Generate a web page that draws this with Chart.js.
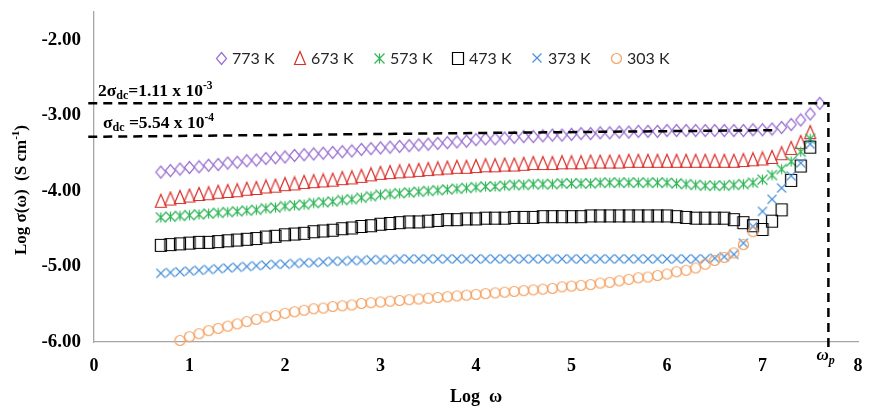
<!DOCTYPE html>
<html>
<head>
<meta charset="utf-8">
<script src="https://cdn.jsdelivr.net/npm/chart.js@4.4.1/dist/chart.umd.min.js"></script>
<style>
  html, body { margin: 0; padding: 0; background: #fff; }
  #wrap { width: 869px; height: 409px; }
</style>
</head>
<body>
<div id="wrap"><canvas id="chart" width="869" height="409"></canvas></div>
<script>
// log(omega) sampling, shared by every series
const logW = [
  0.7, 0.8, 0.9, 1.0, 1.1, 1.2, 1.3, 1.4, 1.5, 1.6,
  1.7, 1.8, 1.9, 2.0, 2.1, 2.2, 2.3, 2.4, 2.5, 2.6,
  2.7, 2.8, 2.9, 3.0, 3.1, 3.2, 3.3, 3.4, 3.5, 3.6,
  3.7, 3.8, 3.9, 4.0, 4.1, 4.2, 4.3, 4.4, 4.5, 4.6,
  4.7, 4.8, 4.9, 5.0, 5.1, 5.2, 5.3, 5.4, 5.5, 5.6,
  5.7, 5.8, 5.9, 6.0, 6.1, 6.2, 6.3, 6.4, 6.5, 6.6,
  6.7, 6.8, 6.9, 7.0, 7.1, 7.2, 7.3, 7.4, 7.5, 7.6
];

const s773 = [
  -3.75, -3.73, -3.71, -3.69, -3.68, -3.66, -3.65, -3.63, -3.62, -3.60,
  -3.59, -3.57, -3.56, -3.55, -3.53, -3.52, -3.51, -3.50, -3.49, -3.48,
  -3.47, -3.45, -3.44, -3.43, -3.42, -3.41, -3.40, -3.39, -3.38, -3.37,
  -3.36, -3.35, -3.34, -3.32, -3.31, -3.31, -3.30, -3.29, -3.28, -3.28,
  -3.27, -3.26, -3.26, -3.25, -3.24, -3.24, -3.23, -3.23, -3.22, -3.22,
  -3.21, -3.21, -3.21, -3.20, -3.20, -3.20, -3.20, -3.20, -3.20, -3.20,
  -3.20, -3.20, -3.19, -3.19, -3.18, -3.16, -3.12, -3.06, -2.98, -2.84
];
const s673 = [
  -4.13, -4.10, -4.08, -4.06, -4.04, -4.03, -4.01, -4.00, -3.99, -3.97,
  -3.96, -3.94, -3.93, -3.91, -3.90, -3.88, -3.87, -3.86, -3.85, -3.83,
  -3.82, -3.80, -3.78, -3.76, -3.75, -3.74, -3.73, -3.72, -3.71, -3.70,
  -3.69, -3.68, -3.68, -3.67, -3.66, -3.66, -3.65, -3.65, -3.64, -3.63,
  -3.63, -3.63, -3.62, -3.62, -3.62, -3.61, -3.61, -3.61, -3.61, -3.60,
  -3.60, -3.60, -3.60, -3.60, -3.60, -3.60, -3.60, -3.60, -3.60, -3.60,
  -3.60, -3.59, -3.58, -3.57, -3.55, -3.50, -3.43, -3.35, -3.22, null
];
const s573 = [
  -4.35, -4.34, -4.33, -4.32, -4.31, -4.30, -4.29, -4.28, -4.27, -4.26,
  -4.25, -4.23, -4.22, -4.20, -4.19, -4.18, -4.16, -4.15, -4.14, -4.12,
  -4.11, -4.09, -4.07, -4.05, -4.04, -4.03, -4.02, -4.01, -4.00, -3.99,
  -3.98, -3.97, -3.96, -3.95, -3.94, -3.94, -3.93, -3.92, -3.92, -3.91,
  -3.91, -3.91, -3.90, -3.90, -3.90, -3.90, -3.89, -3.89, -3.89, -3.89,
  -3.89, -3.89, -3.89, -3.89, -3.90, -3.91, -3.92, -3.93, -3.93, -3.93,
  -3.92, -3.91, -3.89, -3.85, -3.79, -3.71, -3.61, -3.48, -3.31, null
];
const s473 = [
  -4.72, -4.71, -4.70, -4.69, -4.68, -4.68, -4.67, -4.66, -4.65, -4.64,
  -4.63, -4.61, -4.60, -4.58, -4.57, -4.56, -4.54, -4.53, -4.52, -4.50,
  -4.49, -4.47, -4.46, -4.44, -4.43, -4.42, -4.41, -4.41, -4.40, -4.39,
  -4.38, -4.38, -4.37, -4.37, -4.36, -4.36, -4.36, -4.35, -4.35, -4.35,
  -4.34, -4.34, -4.34, -4.34, -4.34, -4.33, -4.33, -4.33, -4.33, -4.33,
  -4.33, -4.33, -4.33, -4.33, -4.34, -4.35, -4.36, -4.36, -4.36, -4.36,
  -4.38, -4.42, -4.46, -4.51, -4.40, -4.25, -3.86, -3.67, -3.42, null
];
const s373 = [
  -5.09, -5.08, -5.07, -5.06, -5.05, -5.04, -5.03, -5.02, -5.01, -5.00,
  -4.99, -4.98, -4.97, -4.97, -4.96, -4.95, -4.95, -4.94, -4.93, -4.93,
  -4.92, -4.92, -4.91, -4.91, -4.91, -4.90, -4.90, -4.90, -4.90, -4.90,
  -4.90, -4.90, -4.90, -4.90, -4.90, -4.90, -4.90, -4.90, -4.90, -4.90,
  -4.90, -4.90, -4.90, -4.90, -4.90, -4.90, -4.90, -4.90, -4.90, -4.90,
  -4.90, -4.90, -4.90, -4.90, -4.90, -4.90, -4.90, -4.90, -4.89, -4.87,
  -4.84, -4.69, -4.47, -4.27, -4.11, -3.96, -3.80, -3.63, -3.38, null
];
const s303 = [
  null, null, -5.98, -5.93, -5.89, -5.85, -5.82, -5.79, -5.76, -5.73,
  -5.70, -5.67, -5.65, -5.62, -5.60, -5.58, -5.56, -5.55, -5.53, -5.52,
  -5.51, -5.49, -5.48, -5.47, -5.46, -5.45, -5.44, -5.43, -5.42, -5.41,
  -5.40, -5.39, -5.38, -5.37, -5.36, -5.35, -5.34, -5.33, -5.32, -5.31,
  -5.30, -5.29, -5.27, -5.26, -5.25, -5.24, -5.22, -5.21, -5.19, -5.17,
  -5.15, -5.14, -5.12, -5.10, -5.07, -5.05, -5.02, -4.97, -4.92, -4.88,
  -4.82, -4.71, -4.54, null, null, null, null, null, null, null
];

const seriesLabels = ['773 K', '673 K', '573 K', '473 K', '373 K', '303 K'];
const xTicks = [0, 1, 2, 3, 4, 5, 6, 7, 8];
const yTicks = [-6, -5, -4, -3, -2];

// dashed guide lines (2 sigma_dc level + omega_p drop, and sigma_dc level)
const twoDcX = [-0.06, 7.69, 7.69];
const twoDcY = [-2.837, -2.837, -6.07];
const dcX = [-0.06, 7.15];
const dcY = [-3.283, -3.194];

const serif = '"Liberation Serif", "Times New Roman", serif';

function marker(kind, color, w, h) {
  const c = document.createElement('canvas');
  c.width = w + 3;
  c.height = h + 3;
  const g = c.getContext('2d');
  const cx = c.width / 2, cy = c.height / 2, rx = w / 2, ry = h / 2;
  g.strokeStyle = color;
  g.lineWidth = 1.2;
  g.beginPath();
  if (kind === 'diamond') {
    g.moveTo(cx, cy - ry); g.lineTo(cx + rx, cy); g.lineTo(cx, cy + ry); g.lineTo(cx - rx, cy); g.closePath();
  } else if (kind === 'triangle') {
    g.moveTo(cx, cy - ry); g.lineTo(cx + rx, cy + ry); g.lineTo(cx - rx, cy + ry); g.closePath();
  } else if (kind === 'star') {
    g.moveTo(cx - rx, cy - ry); g.lineTo(cx + rx, cy + ry);
    g.moveTo(cx + rx, cy - ry); g.lineTo(cx - rx, cy + ry);
    g.moveTo(cx, cy - ry); g.lineTo(cx, cy + ry);
  } else if (kind === 'square') {
    g.rect(cx - rx, cy - ry, w, h);
  } else if (kind === 'cross') {
    g.moveTo(cx - rx, cy - ry); g.lineTo(cx + rx, cy + ry);
    g.moveTo(cx + rx, cy - ry); g.lineTo(cx - rx, cy + ry);
  } else {
    g.arc(cx, cy, rx, 0, Math.PI * 2);
  }
  g.stroke();
  return c;
}

const markers = [
  marker('diamond', '#9b6fd1', 10, 12),
  marker('triangle', '#d9302c', 11, 13),
  marker('star', '#2fb457', 10, 10),
  marker('square', '#000000', 11, 12),
  marker('cross', '#4a90d9', 9, 9),
  marker('circle', '#f4a264', 10, 10)
];

function pts(xs, ys) {
  return xs.map((x, i) => ({ x: x, y: ys[i] })).filter(p => p.y !== null);
}

const allSeries = [s773, s673, s573, s473, s373, s303];
const datasets = allSeries.map((vals, i) => ({
  label: seriesLabels[i],
  data: pts(logW, vals),
  pointStyle: markers[i],
  pointRadius: 5,
  showLine: false,
  clip: false,
  order: 6 - i
}));
[[twoDcX, twoDcY], [dcX, dcY]].forEach(([xs, ys]) => {
  datasets.push({
    label: '',
    data: pts(xs, ys),
    showLine: true,
    pointRadius: 0,
    borderColor: '#000',
    borderWidth: 2.5,
    borderDash: [9, 6],
    clip: false,
    order: 0
  });
});

// draw text with sub/superscript pieces: [text, size, dy]
function runs(ctx, parts, x, y, style) {
  parts.forEach(([t, size, dy]) => {
    ctx.font = style + ' ' + size + 'px ' + serif;
    ctx.fillText(t, x, y + dy);
    x += ctx.measureText(t).width;
  });
}
function runsWidth(ctx, parts, style) {
  let w = 0;
  parts.forEach(([t, size]) => {
    ctx.font = style + ' ' + size + 'px ' + serif;
    w += ctx.measureText(t).width;
  });
  return w;
}

function noEdgePadding(s) {
  s.paddingTop = 0;
  s.paddingBottom = 0;
  s.paddingLeft = 0;
  s.paddingRight = 0;
}

const extras = {
  id: 'extras',
  afterDraw(chart) {
    const { ctx, chartArea, scales: { x, y } } = chart;
    ctx.save();
    ctx.fillStyle = '#000';
    ctx.textBaseline = 'alphabetic';
    ctx.textAlign = 'left';

    // sigma_dc labels
    const yTwo = y.getPixelForValue(twoDcY[0]);
    runs(ctx, [['2σ', 17.5, 0], ['dc', 12, 3], ['=1.11 x 10', 17.5, 0], ['-3', 11.5, -7]],
      chartArea.left + 4, yTwo - 7, 'bold');
    const yOne = y.getPixelForValue(dcY[0]);
    runs(ctx, [['σ', 17.5, 0], ['dc', 12, 3], [' =5.54 x 10', 17.5, 0], ['-4', 11.5, -7]],
      chartArea.left + 9, yOne - 9, 'bold');

    // omega_p label under the drop line
    const xp = x.getPixelForValue(twoDcX[1]);
    runs(ctx, [['ω', 17, 0], ['p', 12, 4]], xp - 12, chartArea.bottom + 18, 'italic bold');

    // y axis title
    const ttl = [['Log σ(ω)  (S cm', 17, 0], ['-1', 11, -6], [')', 17, 0]];
    ctx.translate(22, (chartArea.top + chartArea.bottom) / 2 + 13);
    ctx.rotate(-Math.PI / 2);
    ctx.textBaseline = 'middle';
    const tw = runsWidth(ctx, ttl, 'bold');
    runs(ctx, ttl, -tw / 2, 0, 'bold');
    ctx.restore();

    // legend inside plot area
    ctx.save();
    ctx.font = '16px Lato, "Open Sans", sans-serif';
    ctx.fillStyle = '#262626';
    ctx.textBaseline = 'middle';
    const ly = chartArea.top + 46;
    seriesLabels.forEach((lab, i) => {
      const mx = chartArea.left + 127 + i * 79;
      const m = markers[i];
      ctx.drawImage(m, Math.round(mx - m.width / 2), Math.round(ly - m.height / 2));
      ctx.fillText(lab, mx + 11, ly + 1);
    });
    ctx.restore();
  }
};

new Chart(document.getElementById('chart'), {
  type: 'scatter',
  data: { datasets: datasets },
  options: {
    responsive: false,
    animation: false,
    events: [],
    layout: { padding: { top: 12, right: 11, left: 0, bottom: 0 } },
    plugins: { legend: { display: false }, tooltip: { enabled: false } },
    scales: {
      x: {
        type: 'linear',
        min: 0,
        max: 8,
        grid: { display: false, drawTicks: false },
        border: { display: true, color: '#a6a6a6', width: 1.3 },
        afterBuildTicks: s => { s.ticks = xTicks.map(v => ({ value: v })); },
        afterFit: s => { s.height = 67; noEdgePadding(s); },
        ticks: {
          padding: 14,
          maxRotation: 0,
          color: '#000',
          font: { family: serif, size: 18, weight: 'bold' },
          callback: v => String(v)
        },
        title: {
          display: true,
          text: 'Log  ω',
          color: '#000',
          font: { family: serif, size: 18, weight: 'bold' },
          padding: { top: 0, bottom: 1 }
        }
      },
      y: {
        type: 'linear',
        min: -6,
        max: -1.63,
        grid: { display: false, drawTicks: false },
        border: { display: true, color: '#a6a6a6', width: 1.3 },
        afterBuildTicks: s => { s.ticks = yTicks.map(v => ({ value: v })); },
        afterFit: s => { s.width = 94; noEdgePadding(s); },
        ticks: {
          padding: 13,
          color: '#000',
          font: { family: serif, size: 19, weight: 'bold' },
          callback: v => v.toFixed(2)
        }
      }
    }
  },
  plugins: [extras]
});
</script>
</body>
</html>
